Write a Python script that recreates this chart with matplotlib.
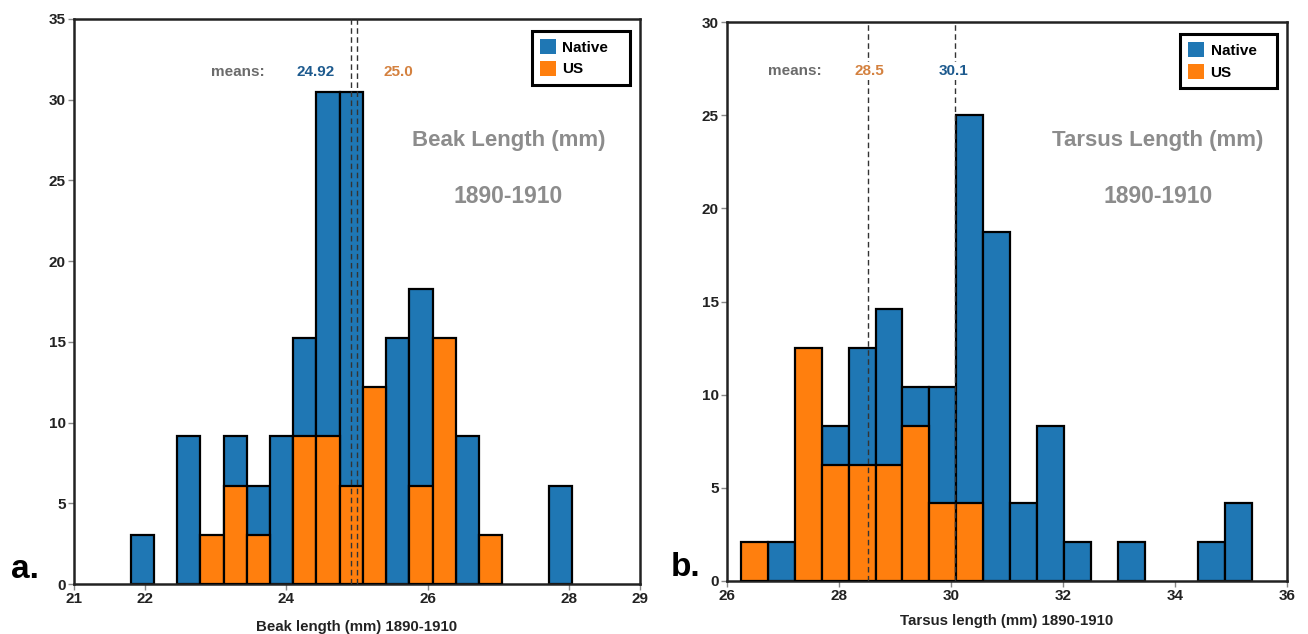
import matplotlib
matplotlib.use("Agg")
import matplotlib.pyplot as plt
from matplotlib.patches import Patch
import numpy as np

plt.rcParams['font.family'] = ['Liberation Sans', 'DejaVu Sans']

# ---------------- data ----------------
beak_bin_start = 21.80
beak_bin_end = 28.04
beak_native = [3.05, 0, 9.15, 0, 9.15, 6.1, 9.15, 15.25, 30.5, 30.5, 0, 15.25, 18.3, 0, 9.15, 0, 0, 0, 6.1]
beak_us = [0, 0, 0, 3.05, 6.1, 3.05, 0, 9.15, 9.15, 6.1, 12.2, 0, 6.1, 15.25, 0, 3.05, 0, 0, 0]
beak_means = {"native": 24.92, "us": 25.0}
beak_mean_labels = {"native": "24.92", "us": "25.0"}

tarsus_bin_start = 26.25
tarsus_bin_end = 35.38
tarsus_native = [0, 2.08, 0, 8.33, 12.5, 14.58, 10.42, 10.42, 25.0, 18.75, 4.17, 8.33, 2.08, 0, 2.08, 0, 0, 2.08, 4.17]
tarsus_us = [2.08, 0, 12.5, 6.25, 6.25, 6.25, 8.33, 4.17, 4.17, 0, 0, 0, 0, 0, 0, 0, 0, 0, 0]
tarsus_means = {"native": 30.07, "us": 28.52}
tarsus_mean_labels = {"native": "30.1", "us": "28.5"}

beak_xticks = [21, 22, 24, 26, 28, 29]
beak_yticks = [0, 5, 10, 15, 20, 25, 30, 35]
tarsus_xticks = [26, 28, 30, 32, 34, 36]
tarsus_yticks = [0, 5, 10, 15, 20, 25, 30]

BLUE = "#1f77b4"
ORANGE = "#ff7f0e"
MEAN_BLUE = "#1d5a8e"
MEAN_ORANGE = "#d4813f"
GRAY = "#8c8c8c"

fig = plt.figure(figsize=(13.08, 6.34), dpi=100)
axL = fig.add_axes([74/1308, 50/634, 566/1308, 565/634])
axR = fig.add_axes([727/1308, 53/634, 560/1308, 559/634])


def draw(ax, start, end, native, us, means, labels, xlim, ylim, xticks, yticks,
         xlabel, title, means_pos, title_pos, order, leg_box, labelpad):
    n = len(native)
    edges = np.linspace(start, end, n + 1)
    w = edges[1] - edges[0]
    for i in range(n):
        if native[i] > 0:
            ax.bar(edges[i], native[i], width=w, align='edge', color=BLUE,
                   edgecolor='black', linewidth=1.6, zorder=2)
    for i in range(n):
        if us[i] > 0:
            ax.bar(edges[i], us[i], width=w, align='edge', color=ORANGE,
                   edgecolor='black', linewidth=1.6, zorder=3)
    for k in ("native", "us"):
        ax.axvline(means[k], color='#333333', linewidth=1.0,
                   linestyle=(0, (4, 2.5)), zorder=4)
    ax.set_xlim(*xlim)
    ax.set_ylim(*ylim)
    ax.set_xticks(xticks)
    ax.set_yticks(yticks)
    ax.tick_params(direction='out', length=4, width=1, color='#888888',
                   labelsize=11, labelcolor='#222222', pad=2)
    for lab in ax.get_xticklabels() + ax.get_yticklabels():
        lab.set_fontweight('bold')
    for s in ax.spines.values():
        s.set_linewidth(1.8)
        s.set_color('#222222')
    ax.set_xlabel(xlabel, fontsize=10.8, fontweight='bold', color='#222222',
                  labelpad=labelpad)
    mx, my = means_pos
    ax.text(mx[0], my, "means:", ha='center', va='center', fontsize=11,
            fontweight='bold', color='#6b6b6b', zorder=6)
    for xpos, k in zip(mx[1:], order):
        ax.text(xpos, my, labels[k], ha='center', va='center', fontsize=11,
                fontweight='bold', color=MEAN_BLUE if k == "native" else MEAN_ORANGE,
                zorder=6,
                bbox=dict(facecolor='white', edgecolor='none', pad=1.5))
    tx, ty1, ty2 = title_pos
    ax.text(tx, ty1, title, ha='center', va='center', fontsize=16,
            fontweight='bold', color=GRAY)
    ax.text(tx, ty2, "1890-1910", ha='center', va='center', fontsize=16.5,
            fontweight='bold', color=GRAY)
    handles = [Patch(facecolor=BLUE, edgecolor='none', label='Native'),
               Patch(facecolor=ORANGE, edgecolor='none', label='US')]
    leg = ax.legend(handles=handles, loc='upper right', bbox_to_anchor=leg_box,
                    mode='expand', fancybox=False,
                    framealpha=1, edgecolor='black', handlelength=1.05,
                    handleheight=1.1, handletextpad=0.4, borderpad=0.55,
                    labelspacing=0.4, prop={'weight': 'bold', 'size': 11},
                    borderaxespad=0)
    leg.get_frame().set_linewidth(2.2)
    leg.set_zorder(7)


draw(axL, beak_bin_start, beak_bin_end, beak_native, beak_us, beak_means,
     beak_mean_labels, (21, 29), (0, 35), beak_xticks, beak_yticks,
     "Beak length (mm) 1890-1910", "Beak Length (mm)",
     ((23.31, 24.42, 25.58), 31.74), (27.14, 27.46, 24.0), ("native", "us"),
     (0.809, 0.5, 0.173, 0.479), 10)
draw(axR, tarsus_bin_start, tarsus_bin_end, tarsus_native, tarsus_us, tarsus_means,
     tarsus_mean_labels, (26, 36), (0, 30), tarsus_xticks, tarsus_yticks,
     "Tarsus length (mm) 1890-1910", "Tarsus Length (mm)",
     ((27.21, 28.55, 30.05), 27.38), (33.69, 23.66, 20.65), ("us", "native"),
     (0.809, 0.5, 0.173, 0.4785), 8)

fig.text(11/1308, 1 - 570/634, "a.", fontsize=24, fontweight='bold', va='center', ha='left')
fig.text(671/1308, 1 - 567/634, "b.", fontsize=24, fontweight='bold', va='center', ha='left')

fig.savefig("out.png", dpi=100)
